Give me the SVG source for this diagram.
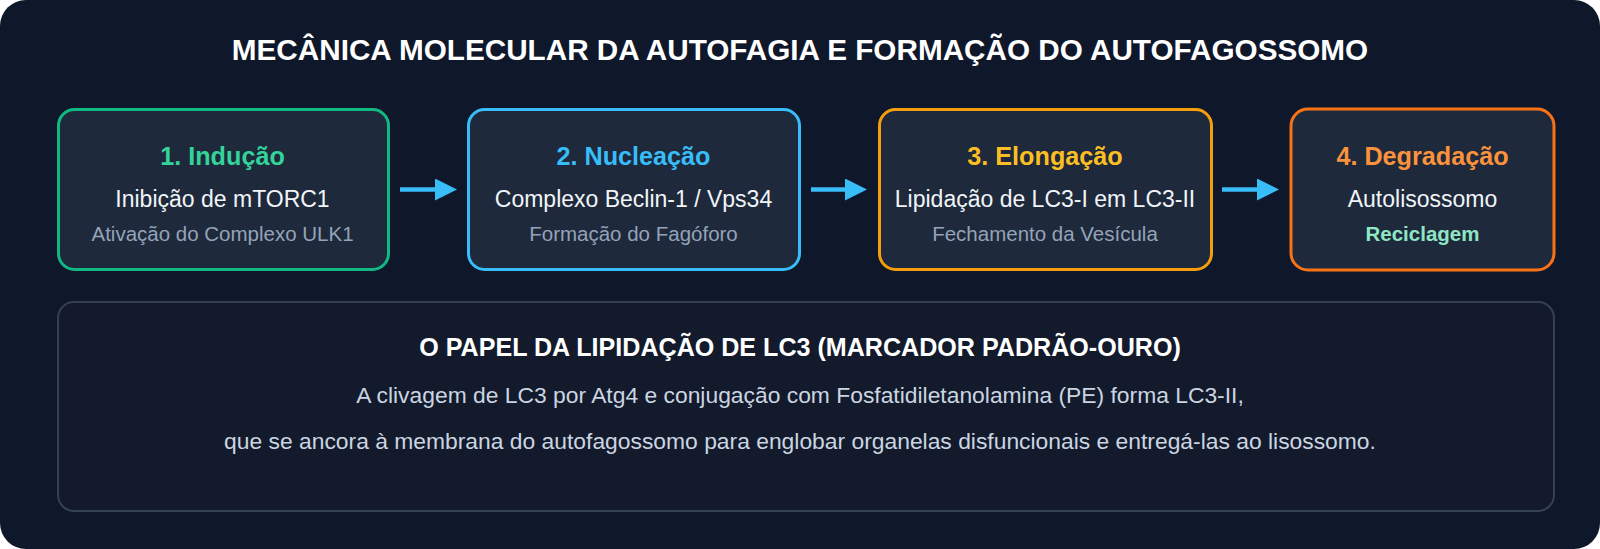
<svg xmlns="http://www.w3.org/2000/svg" width="1600" height="549" viewBox="0 0 1600 549">
  <defs>
    <style>
      text { font-family: "Liberation Sans", Arial, Helvetica, sans-serif; text-anchor: middle; }
      .title { font-size: 29.7px; font-weight: bold; fill: #ffffff; }
      .box { fill: #1e293b; stroke-width: 3; }
      .step { font-size: 25.2px; font-weight: bold; }
      .main { font-size: 23px; fill: #f1f5f9; }
      .sub { font-size: 20.5px; fill: #94a3b8; }
      .recyc { font-size: 20.5px; font-weight: bold; fill: #8fe6c4; }
      .panel { fill: #121a2b; stroke: #334155; stroke-width: 2; }
      .ptitle { font-size: 25.1px; font-weight: bold; fill: #ffffff; }
      .body { font-size: 22.85px; fill: #cbd5e1; }
      .conn { stroke: #38bdf8; stroke-width: 4.5; fill: none; }
    </style>
    <marker id="ah" markerWidth="22" markerHeight="22" refX="0" refY="11" orient="auto" markerUnits="userSpaceOnUse">
      <path d="M0,0 L22,11 L0,22 Z" fill="#38bdf8"/>
    </marker>
  </defs>

  <rect x="0" y="0" width="1600" height="549" fill="#ffffff"/>
  <rect id="background" x="0" y="0" width="1600" height="549" rx="26" ry="26" fill="#0f172a"/>

  <text id="main-title" class="title" x="800" y="59.5">MECÂNICA MOLECULAR DA AUTOFAGIA E FORMAÇÃO DO AUTOFAGOSSOMO</text>

  <g id="node-inducao">
    <rect class="box" x="58.5" y="109.5" width="330" height="160" rx="16" stroke="#10b981"/>
    <text class="step" x="222.5" y="165" fill="#34d399">1. Indução</text>
    <text class="main" x="222.5" y="206.5">Inibição de mTORC1</text>
    <text class="sub" x="222.5" y="240.5">Ativação do Complexo ULK1</text>
  </g>

  <g id="node-nucleacao">
    <rect class="box" x="468.5" y="109.5" width="331" height="160" rx="16" stroke="#38bdf8"/>
    <text class="step" x="633.5" y="165" fill="#38bdf8">2. Nucleação</text>
    <text class="main" x="633.5" y="206.5">Complexo Beclin-1 / Vps34</text>
    <text class="sub" x="633.5" y="240.5">Formação do Fagóforo</text>
  </g>

  <g id="node-elongacao">
    <rect class="box" x="879.5" y="109.5" width="332" height="160" rx="16" stroke="#f59e0b"/>
    <text class="step" x="1045" y="165" fill="#fbbf24">3. Elongação</text>
    <text class="main" x="1045" y="206.5">Lipidação de LC3-I em LC3-II</text>
    <text class="sub" x="1045" y="240.5">Fechamento da Vesícula</text>
  </g>

  <g id="node-degradacao">
    <rect class="box" x="1291" y="109" width="263" height="161" rx="17" stroke="#f97316" stroke-width="4"/>
    <text class="step" x="1422.5" y="165" fill="#fb923c">4. Degradação</text>
    <text class="main" x="1422.5" y="206.5">Autolisossomo</text>
    <text class="recyc" x="1422.5" y="240.5">Reciclagem</text>
  </g>

  <g id="connectors">
    <line class="conn" x1="400" y1="189.5" x2="435" y2="189.5" marker-end="url(#ah)"/>
    <line class="conn" x1="811" y1="189.5" x2="845" y2="189.5" marker-end="url(#ah)"/>
    <line class="conn" x1="1222" y1="189.5" x2="1257" y2="189.5" marker-end="url(#ah)"/>
  </g>

  <g id="node-lc3-panel">
    <rect class="panel" x="58" y="302" width="1496" height="209" rx="16"/>
    <text class="ptitle" x="800" y="355.5">O PAPEL DA LIPIDAÇÃO DE LC3 (MARCADOR PADRÃO-OURO)</text>
    <text class="body" x="800" y="403">A clivagem de LC3 por Atg4 e conjugação com Fosfatidiletanolamina (PE) forma LC3-II,</text>
    <text class="body" x="800" y="449">que se ancora à membrana do autofagossomo para englobar organelas disfuncionais e entregá-las ao lisossomo.</text>
  </g>
</svg>
